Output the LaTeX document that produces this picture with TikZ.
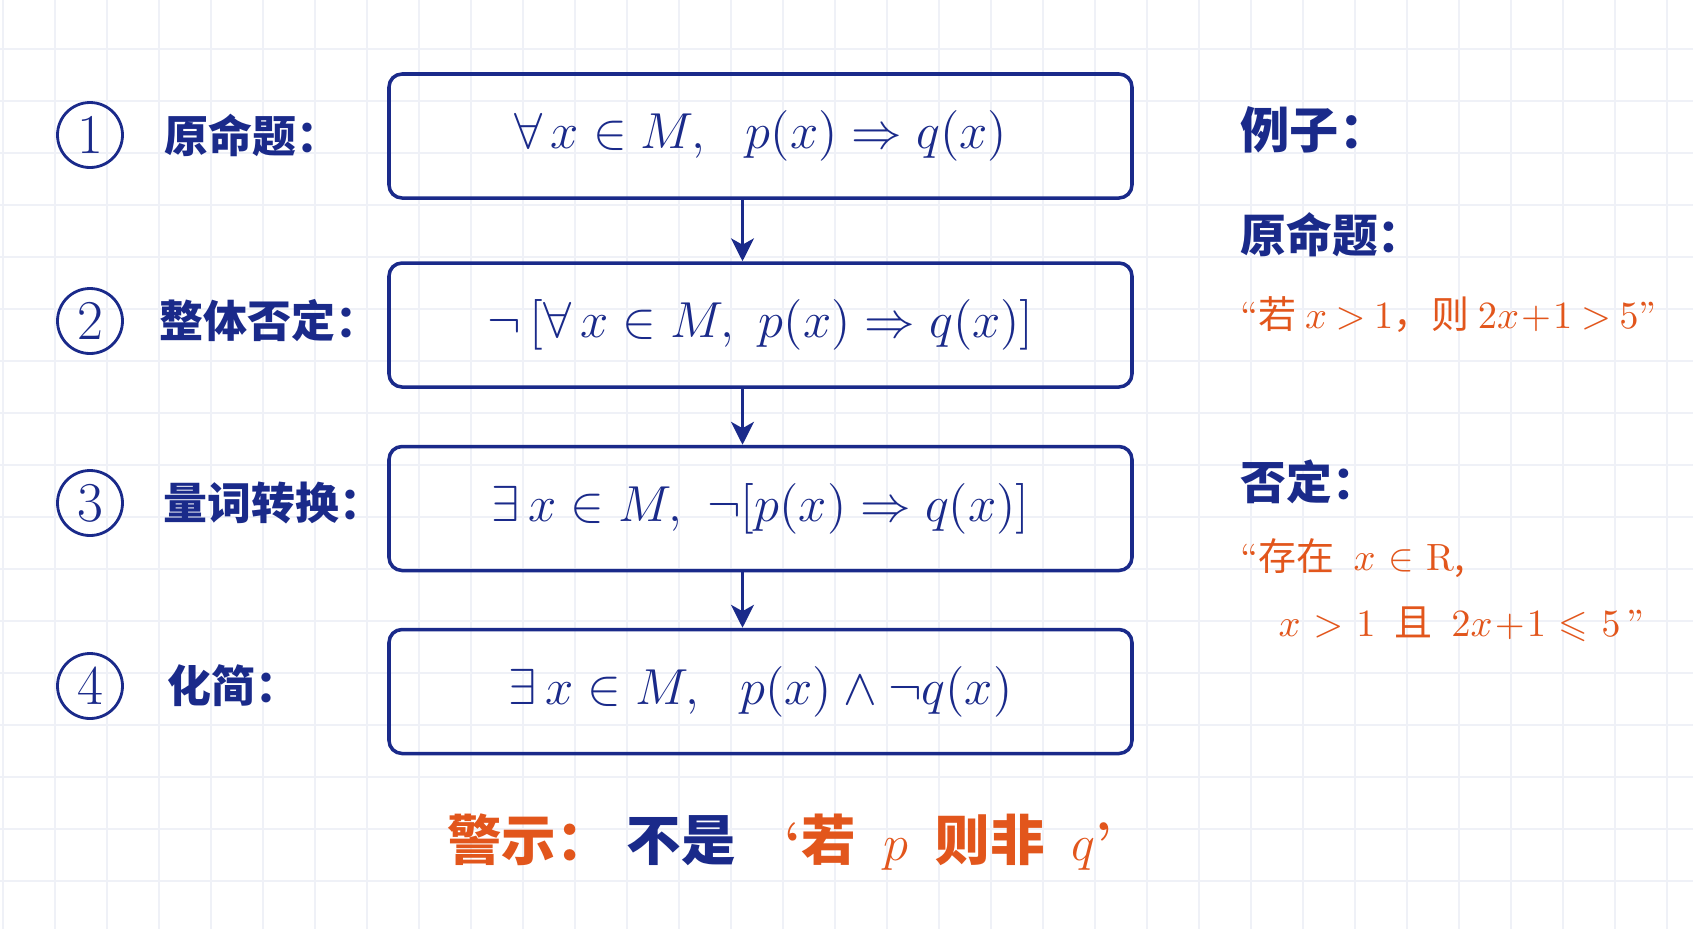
\documentclass[tikz,border=0pt]{standalone}
\usepackage{amssymb}
\usepackage{fontspec}
\usetikzlibrary{arrows.meta}
\newfontfamily\cjk{Noto Sans CJK SC}
\definecolor{navy}{HTML}{1A2A8A}
\definecolor{warn}{HTML}{E2561C}
\definecolor{gridc}{HTML}{EFF1F7}
\newcommand\tightmath{\medmuskip=1mu\relax\thickmuskip=4mu\relax}
\newcommand\widemath{\medmuskip=1mu\relax\thickmuskip=6mu\relax}
\tikzset{
  stepbox/.style={draw=navy, line width=1pt, rounded corners=.13cm, minimum width=7.43cm, minimum height=1.24cm, text=navy, font=\fontsize{15.3}{18}\selectfont},
  numcirc/.style={circle, draw=navy, line width=.8pt, minimum size=.65cm, inner sep=0pt, text=navy, font=\fontsize{16}{18}\selectfont},
  steplabel/.style={right, inner sep=0pt, text=navy, font=\cjk\bfseries\fontsize{12.5}{15}\selectfont},
  exhead/.style={right, inner sep=0pt, text=navy, font=\cjk\bfseries\fontsize{13}{16}\selectfont},
  extext/.style={right, inner sep=0pt, text=warn, font=\cjk\fontsize{10.8}{13}\selectfont\tightmath},
}
\begin{document}
\begin{tikzpicture}[>={Stealth[length=6.5pt,width=6.5pt,inset=1.8pt]}]
\useasboundingbox (0,0) rectangle (16.93,-9.29);
\fill[white] (0,0) rectangle (16.93,-9.29);
\begin{scope}
    \clip (0,0) rectangle (16.93,-9.29);
    \draw[gridc, line width=.5pt, shift={(.03,.03)}] (-1.04,-9.88) grid[step=.52] (17.68,.52);
\end{scope}

% steps
\node[stepbox] (b1) at (7.605,-1.36) {$\forall\, x\in M,\ \ p(x)\Rightarrow q(x)$};
\node[stepbox] (b2) at (7.605,-3.25) {$\neg\,\bigl[\forall\, x\in M,\ p(x)\Rightarrow q(x)\bigr]$};
\node[stepbox] (b3) at (7.605,-5.085) {$\exists\, x\in M,\ \neg\bigl[p(x)\Rightarrow q(x)\bigr]$};
\node[stepbox] (b4) at (7.605,-6.915) {$\exists\, x\in M,\ \ p(x)\wedge\neg q(x)$};

\draw[->, navy, line width=.9pt] ([xshift=-.18cm]b1.south)--([xshift=-.18cm]b2.north);
\draw[->, navy, line width=.9pt] ([xshift=-.18cm]b2.south)--([xshift=-.18cm]b3.north);
\draw[->, navy, line width=.9pt] ([xshift=-.18cm]b3.south)--([xshift=-.18cm]b4.north);

\node[numcirc] (n1) at (.90,-1.35) {1};
\node[numcirc] (n2) at (.90,-3.21) {2};
\node[numcirc] (n3) at (.90,-5.03) {3};
\node[numcirc] (n4) at (.90,-6.86) {4};
\node[steplabel] (l1) at (1.64,-1.35) {原命题：};
\node[steplabel] (l2) at (1.59,-3.21) {整体否定：};
\node[steplabel] (l3) at (1.63,-5.03) {量词转换：};
\node[steplabel] (l4) at (1.67,-6.86) {化简：};

% example
\node[exhead, font=\cjk\bfseries\fontsize{14}{16}\selectfont] (ex) at (12.40,-1.30) {例子：};
\node[exhead] (exorig) at (12.40,-2.35) {原命题：};
\node[extext] (exorigtxt) at (12.40,-3.15) {{\rmfamily“}若 $x>1$，则 $2x+1>5${\rmfamily”}};
\node[exhead] (exneg) at (12.40,-4.82) {否定：};
\node[extext] (exnegtxt1) at (12.40,-5.58) {\widemath{\rmfamily“}存在\enspace $x\in\mathrm{R}$,};
\node[extext] (exnegtxt2) at (12.78,-6.24) {\widemath$x>1$\enspace 且\enspace $2x+1\leqslant 5${\rmfamily\,”}};

\node[text=navy, font=\cjk\bfseries\fontsize{15.5}{18}\selectfont] (warnline) at (7.80,-8.42)
    {{\color{warn}警示：}\hspace{.3em}不是\hspace{.9em}{\color{warn}{\rmfamily‘}若\hspace{.5em}$p$\hspace{.5em}则非\hspace{.5em}$q${\rmfamily’}}};
\end{tikzpicture}
\end{document}
